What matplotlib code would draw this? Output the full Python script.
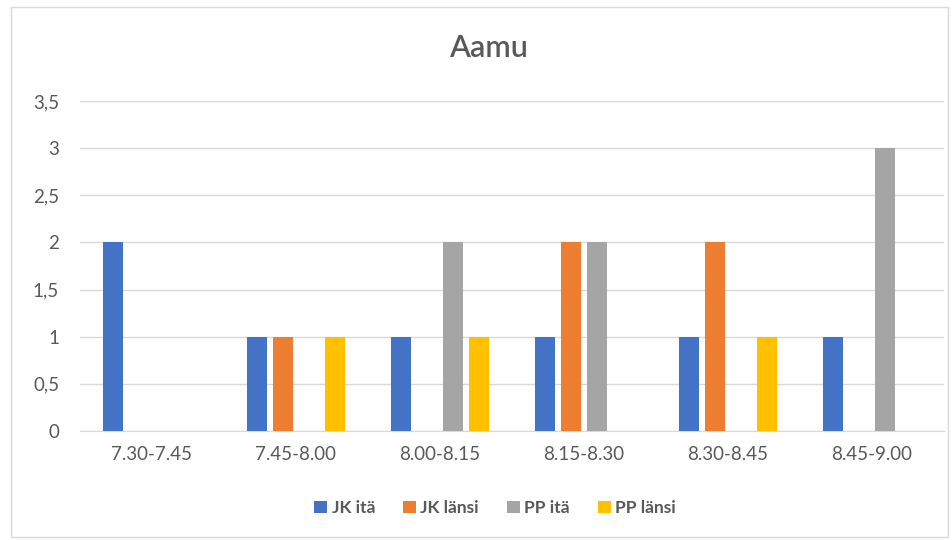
import matplotlib.pyplot as plt
import numpy as np
from matplotlib.patches import Rectangle

plt.rcParams['font.family'] = ['Lato', 'DejaVu Sans']

aikavalit = ['7.30-7.45', '7.45-8.00', '8.00-8.15', '8.15-8.30', '8.30-8.45', '8.45-9.00']
jk_ita = [2, 1, 1, 1, 1, 1]
jk_lansi = [0, 1, 0, 2, 2, 0]
pp_ita = [0, 0, 2, 2, 0, 3]
pp_lansi = [0, 1, 1, 0, 1, 0]

sarjat = ['JK itä', 'JK länsi', 'PP itä', 'PP länsi']
varit = ['#4472C4', '#ED7D31', '#A5A5A5', '#FFC000']
teksti = '#595959'

fig = plt.figure(figsize=(9.53, 5.4), dpi=100)
ax = fig.add_axes([80 / 953, 1 - 431 / 540, 864 / 953, 330 / 540])

x = np.arange(len(aikavalit))
askel = 0.181
leveys = 0.142
for i, (arvot, nimi, vari) in enumerate(zip([jk_ita, jk_lansi, pp_ita, pp_lansi], sarjat, varit)):
    ax.bar(x + (i - 1.5) * askel, arvot, leveys, color=vari, label=nimi, zorder=3)

ax.set_xlim(-0.5, len(aikavalit) - 0.5)
ax.set_ylim(0, 3.5)
ax.set_yticks(np.arange(0, 3.51, 0.5))
ax.set_yticklabels([f'{v:g}'.replace('.', ',') for v in np.arange(0, 3.51, 0.5)])
ax.set_xticks(x)
ax.set_xticklabels(aikavalit)
ax.tick_params(length=0, colors=teksti, labelsize=13.5)
ax.tick_params(axis='y', pad=15)
ax.tick_params(axis='x', pad=11)
ax.grid(axis='y', color='#D9D9D9', linewidth=1, zorder=0)
for s in ['top', 'right', 'left']:
    ax.spines[s].set_visible(False)
ax.spines['bottom'].set_color('#D9D9D9')

fig.text(488 / 953, 1 - 57 / 540, 'Aamu', ha='center', va='baseline', fontsize=22,
         fontweight='semibold', color=teksti)

fig.legend(loc='center', bbox_to_anchor=(495 / 953, 1 - 508 / 540), ncol=4, frameon=False,
           handlelength=0.75, handleheight=0.75, handletextpad=0.25, columnspacing=1.6,
           prop={'weight': 'bold', 'size': 12.5}, labelcolor=teksti)

fig.patches.append(Rectangle((11 / 953, 3 / 540), 937 / 953, 530 / 540, transform=fig.transFigure,
                             fill=False, edgecolor='#D9D9D9', linewidth=1))

fig.savefig('out.png', dpi=100, facecolor='white')
